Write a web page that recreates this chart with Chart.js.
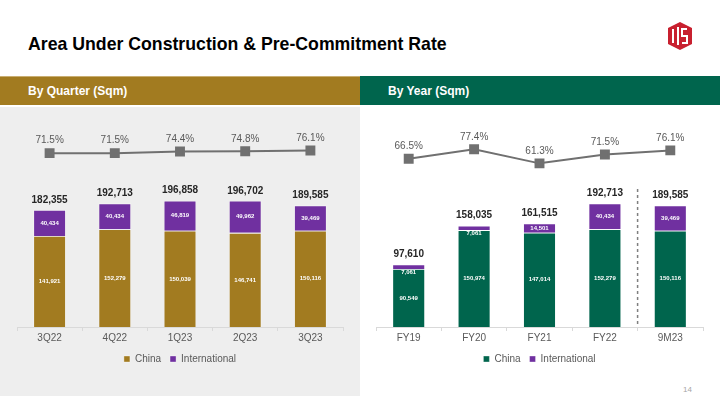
<!DOCTYPE html>
<html>
<head>
<meta charset="utf-8">
<script src="https://cdn.jsdelivr.net/npm/chart.js@4.4.1/dist/chart.umd.min.js"></script>
<style>
  html, body { margin: 0; padding: 0; }
  body { width: 720px; height: 405px; position: relative; background: #fff; overflow: hidden;
         font-family: "Liberation Sans", Arial, sans-serif; }
  .title { position: absolute; left: 28px; top: 33px; font-size: 17.7px; font-weight: bold; color: #000; line-height: 22px; }
  .bar { position: absolute; top: 76px; height: 28px; }
  .bar span { position: absolute; left: 28px; top: 7px; font-size: 12px; font-weight: bold; color: #fff; line-height: 14px; }
  .panel { position: absolute; top: 107px; width: 360px; height: 289px; }
  canvas { position: absolute; top: 0; left: 0; }
  .page { position: absolute; left: 683px; top: 385px; font-size: 8px; color: #a6a6a6; }
  .logo { position: absolute; left: 668px; top: 22px; }
</style>
</head>
<body>
<div class="title">Area Under Construction &amp; Pre-Commitment Rate</div>
<svg class="logo" width="24" height="28" viewBox="0 0 24 28">
  <polygon points="12,0 24,6 24,22 12,28 0,22 0,6" fill="#c8202f"/>
  <rect x="4" y="7" width="2" height="14" fill="#fff"/>
  <rect x="9" y="5" width="2" height="18" fill="#fff"/>
  <path d="M19 7 L14 7 L14 14 L19 14 L19 21 L14 21" stroke="#fff" stroke-width="2" fill="none"/>
</svg>
<div class="bar" style="left:0;width:360px;background:#a27b20;border-top:1px solid #c9ae72;"><span>By Quarter (Sqm)</span></div>
<div class="bar" style="left:360px;width:360px;background:#00654d;border-top:1px solid #00654d;"><span>By Year (Sqm)</span></div>
<div class="panel" style="left:0;background:#eeeeee;"><canvas id="quarterChart" width="360" height="268"></canvas></div>
<div class="panel" style="left:360px;"><canvas id="yearChart" width="360" height="268"></canvas></div>
<div class="page">14</div>

<script>
// 분기별 데이터
const quarterLabels = ['3Q22', '4Q22', '1Q23', '2Q23', '3Q23'];
const quarterChina = [141921, 152279, 150039, 146741, 150116];
const quarterIntl = [40434, 40434, 46819, 49962, 39469];
const quarterTotals = [182355, 192713, 196858, 196702, 189585];
const quarterRate = [71.5, 71.5, 74.4, 74.8, 76.1];

// 연도별 데이터
const yearLabels = ['FY19', 'FY20', 'FY21', 'FY22', '9M23'];
const yearChina = [90549, 150974, 147014, 152279, 150116];
const yearIntl = [7061, 7061, 14501, 40434, 39469];
const yearTotals = [97610, 158035, 161515, 192713, 189585];
const yearRate = [66.5, 77.4, 61.3, 71.5, 76.1];

Chart.defaults.font.family = '"Liberation Sans", Arial, sans-serif';
Chart.defaults.color = '#595959';

const fmt = (v) => v.toLocaleString('en-US');

// 막대 안/위 라벨 그리기
const labelPlugin = {
  id: 'labels',
  afterDatasetsDraw(chart) {
    const ctx = chart.ctx;
    const totals = chart.options.plugins.labels.totals;
    ctx.save();
    ctx.textAlign = 'center';
    ctx.textBaseline = 'middle';

    const china = chart.getDatasetMeta(0).data;
    const intl = chart.getDatasetMeta(1).data;
    ctx.font = 'bold 6px "Liberation Sans", Arial, sans-serif';
    ctx.fillStyle = '#ffffff';
    china.forEach((el, i) => {
      ctx.fillText(fmt(chart.data.datasets[0].data[i]), el.x, (el.y + el.base) / 2);
    });
    intl.forEach((el, i) => {
      const h = el.base - el.y;
      // 얇은 막대는 라벨을 아래(중국 영역)로
      const y = h < 7 ? el.base + 3.5 : (el.y + el.base) / 2;
      ctx.fillText(fmt(chart.data.datasets[1].data[i]), el.x, y);
    });

    // 합계
    ctx.font = 'bold 10px "Liberation Sans", Arial, sans-serif';
    ctx.fillStyle = '#262626';
    intl.forEach((el, i) => {
      ctx.fillText(fmt(totals[i]), el.x, el.y - 10);
    });

    // 선택 비율
    ctx.font = '10px "Liberation Sans", Arial, sans-serif';
    ctx.fillStyle = '#595959';
    chart.getDatasetMeta(2).data.forEach((el, i) => {
      ctx.fillText(chart.data.datasets[2].data[i].toFixed(1) + '%', el.x, el.y - 12.5);
    });
    ctx.restore();
  }
};

// FY22 / 9M23 사이 점선
const dividerPlugin = {
  id: 'divider',
  afterDatasetsDraw(chart) {
    const opts = chart.options.plugins.divider;
    if (!opts || !opts.show) return;
    const x = chart.scales.x;
    const px = (x.getPixelForValue(3) + x.getPixelForValue(4)) / 2;
    const ctx = chart.ctx;
    ctx.save();
    ctx.strokeStyle = '#7f7f7f';
    ctx.lineWidth = 1.5;
    ctx.setLineDash([3, 3]);
    ctx.beginPath();
    ctx.moveTo(px, chart.chartArea.top + 68);
    ctx.lineTo(px, chart.chartArea.bottom);
    ctx.stroke();
    ctx.restore();
  }
};

function makeChart(id, labels, china, intl, totals, rate, chinaColor, rateMin, rateMax, padL, padR, divider) {
  const ctx = document.getElementById(id).getContext('2d');
  return new Chart(ctx, {
    type: 'bar',
    data: {
      labels: labels,
      datasets: [
        {
          label: 'China',
          data: china,
          backgroundColor: chinaColor,
          borderColor: 'rgba(255,255,255,0.45)',
          borderWidth: 0.8,
          barPercentage: 0.5,
          categoryPercentage: 1,
          yAxisID: 'y',
          order: 2
        },
        {
          label: 'International',
          data: intl,
          backgroundColor: '#7030a0',
          borderColor: 'rgba(255,255,255,0.45)',
          borderWidth: 0.8,
          barPercentage: 0.5,
          categoryPercentage: 1,
          yAxisID: 'y',
          order: 2
        },
        {
          type: 'line',
          label: 'Rate',
          data: rate,
          borderColor: '#707070',
          backgroundColor: '#707070',
          borderWidth: 2,
          pointStyle: 'rect',
          pointRadius: 5.6,
          yAxisID: 'y2',
          order: 1
        }
      ]
    },
    options: {
      responsive: false,
      animation: false,
      layout: { padding: { top: 14, left: padL, right: padR, bottom: 1 } },
      scales: {
        x: {
          stacked: true,
          grid: { display: true, drawOnChartArea: false, drawTicks: true, tickLength: 4, color: '#d9d9d9' },
          border: { display: true, color: '#d9d9d9' },
          ticks: { font: { size: 10 }, color: '#595959', padding: 1 }
        },
        y: { stacked: true, display: false, min: 0, max: 321000 },
        y2: { display: false, min: rateMin, max: rateMax }
      },
      plugins: {
        legend: {
          position: 'bottom',
          labels: {
            boxWidth: 6, boxHeight: 6, padding: 9,
            font: { size: 10 }, color: '#595959',
            filter: (item) => item.datasetIndex < 2
          }
        },
        tooltip: { enabled: false },
        labels: { totals: totals },
        divider: { show: divider }
      }
    },
    plugins: [labelPlugin, dividerPlugin]
  });
}

makeChart('quarterChart', quarterLabels, quarterChina, quarterIntl, quarterTotals, quarterRate, '#a27b20', -234, 128, 17, 17, false);
makeChart('yearChart', yearLabels, yearChina, yearIntl, yearTotals, yearRate, '#00654d', -125.7, 109.7, 16, 17, true);
</script>
</body>
</html>
